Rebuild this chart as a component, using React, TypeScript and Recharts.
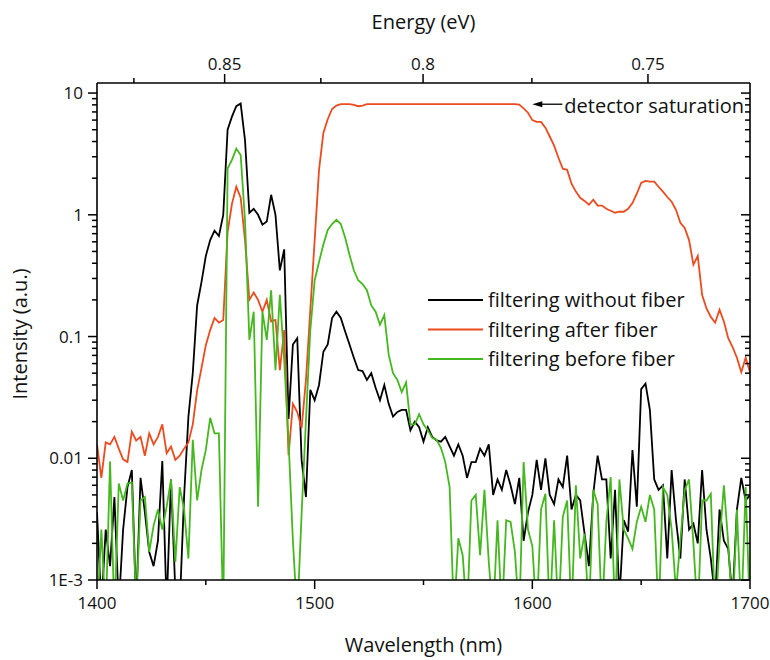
import React from 'react';
import { LineChart, Line, XAxis, YAxis, Legend, ReferenceDot } from 'recharts';

// Spectra sampled every 2 nm
const wavelengths = [
  1400, 1402, 1404, 1406, 1408, 1410, 1412, 1414, 1416, 1418,
  1420, 1422, 1424, 1426, 1428, 1430, 1432, 1434, 1436, 1438,
  1440, 1442, 1444, 1446, 1448, 1450, 1452, 1454, 1456, 1458,
  1460, 1462, 1464, 1466, 1468, 1470, 1472, 1474, 1476, 1478,
  1480, 1482, 1484, 1486, 1488, 1490, 1492, 1494, 1496, 1498,
  1500, 1502, 1504, 1506, 1508, 1510, 1512, 1514, 1516, 1518,
  1520, 1522, 1524, 1526, 1528, 1530, 1532, 1534, 1536, 1538,
  1540, 1542, 1544, 1546, 1548, 1550, 1552, 1554, 1556, 1558,
  1560, 1562, 1564, 1566, 1568, 1570, 1572, 1574, 1576, 1578,
  1580, 1582, 1584, 1586, 1588, 1590, 1592, 1594, 1596, 1598,
  1600, 1602, 1604, 1606, 1608, 1610, 1612, 1614, 1616, 1618,
  1620, 1622, 1624, 1626, 1628, 1630, 1632, 1634, 1636, 1638,
  1640, 1642, 1644, 1646, 1648, 1650, 1652, 1654, 1656, 1658,
  1660, 1662, 1664, 1666, 1668, 1670, 1672, 1674, 1676, 1678,
  1680, 1682, 1684, 1686, 1688, 1690, 1692, 1694, 1696, 1698,
  1700,
];

const withoutFiber = [
  0.0036, 0.0006, 0.0026, 0.0013, 0.0048, 0.0006, 0.0026, 0.0058, 0.008, 0.0006,
  0.0069, 0.0036, 0.0017, 0.0013, 0.0021, 0.0095, 0.0006, 0.0067, 0.0008, 0.0006,
  0.0048, 0.022, 0.05, 0.18, 0.28, 0.46, 0.62, 0.74, 0.67, 1.0,
  5.0, 6.4, 7.8, 8.2, 4.1, 1.04, 1.12, 1.0, 0.83, 0.88,
  1.46, 1.0, 0.35, 0.52, 0.021, 0.086, 0.097, 0.0097, 0.0048, 0.0365,
  0.03, 0.04, 0.075, 0.086, 0.142, 0.16, 0.142, 0.11, 0.086, 0.067,
  0.053, 0.052, 0.044, 0.05, 0.038, 0.03, 0.04, 0.028, 0.022, 0.024,
  0.025, 0.025, 0.017, 0.02, 0.018, 0.0137, 0.018, 0.015, 0.014, 0.0137,
  0.015, 0.0125, 0.0105, 0.013, 0.0105, 0.0069, 0.0093, 0.0093, 0.012, 0.0105,
  0.013, 0.005, 0.0067, 0.0055, 0.008, 0.006, 0.0042, 0.0069, 0.0021, 0.0036,
  0.005, 0.0097, 0.0055, 0.01, 0.005, 0.0042, 0.0067, 0.0058, 0.0105, 0.0038,
  0.005, 0.0045, 0.0024, 0.0013, 0.0051, 0.0105, 0.0067, 0.0067, 0.0015, 0.0055,
  0.0007, 0.0031, 0.0025, 0.0117, 0.004, 0.037, 0.041, 0.025, 0.0067, 0.0055,
  0.006, 0.0015, 0.008, 0.0031, 0.0015, 0.0067, 0.0026, 0.0029, 0.002, 0.008,
  0.0026, 0.0015, 0.0007, 0.0038, 0.0021, 0.0018, 0.0007, 0.0038, 0.0069, 0.0045,
  0.005,
];

const afterFiber = [
  0.013, 0.0069, 0.0135, 0.013, 0.015, 0.012, 0.0098, 0.0093, 0.0165, 0.014,
  0.015, 0.0105, 0.016, 0.013, 0.015, 0.019, 0.011, 0.0125, 0.0097, 0.0105,
  0.012, 0.0135, 0.019, 0.036, 0.055, 0.085, 0.113, 0.142, 0.13, 0.137,
  0.72, 1.23, 1.7, 1.38, 0.62, 0.2, 0.23, 0.2, 0.16, 0.2,
  0.133, 0.137, 0.053, 0.113, 0.0106, 0.028, 0.024, 0.0177, 0.044, 0.166,
  0.62, 2.34, 4.7, 6.1, 7.4, 7.9, 8.1, 8.1, 8.1, 8.0,
  7.8, 7.9, 8.1, 8.1, 8.1, 8.1, 8.1, 8.1, 8.1, 8.1,
  8.1, 8.1, 8.1, 8.1, 8.1, 8.1, 8.1, 8.1, 8.1, 8.1,
  8.1, 8.1, 8.1, 8.1, 8.1, 8.1, 8.1, 8.1, 8.1, 8.1,
  8.1, 8.1, 8.1, 8.1, 8.1, 8.1, 8.1, 8.05, 7.5, 6.9,
  6.0, 5.8, 5.8, 5.2, 4.4, 3.7, 2.94, 2.39, 2.34, 1.8,
  1.55, 1.38, 1.3, 1.21, 1.33, 1.19, 1.19, 1.12, 1.08, 1.04,
  1.06, 1.06, 1.12, 1.25, 1.49, 1.83, 1.9, 1.87, 1.87, 1.7,
  1.55, 1.4, 1.28, 1.1, 0.86, 0.78, 0.62, 0.39, 0.46, 0.22,
  0.17, 0.145, 0.13, 0.166, 0.133, 0.097, 0.082, 0.067, 0.051, 0.067,
  0.051,
];

const beforeFiber = [
  0.0005, 0.0026, 0.0005, 0.0094, 0.0005, 0.0062, 0.0045, 0.0062, 0.0063, 0.0006,
  0.0045, 0.0048, 0.0017, 0.0028, 0.0038, 0.0026, 0.004, 0.0067, 0.0014, 0.0058,
  0.0038, 0.0015, 0.0142, 0.0045, 0.008, 0.0117, 0.0215, 0.016, 0.016, 0.0005,
  2.4, 2.83, 3.5, 3.1, 0.9, 0.094, 0.16, 0.004, 0.16, 0.094,
  0.24, 0.053, 0.22, 0.064, 0.014, 0.0021, 0.0005, 0.0035, 0.0207, 0.113,
  0.29, 0.41, 0.57, 0.75, 0.84, 0.91, 0.84, 0.65, 0.47, 0.35,
  0.29, 0.27, 0.24, 0.18, 0.16, 0.125, 0.15, 0.071, 0.05, 0.044,
  0.035, 0.042, 0.019, 0.019, 0.023, 0.019, 0.017, 0.0147, 0.0142, 0.0122,
  0.0093, 0.0058, 0.0005, 0.0022, 0.0016, 0.0005, 0.0045, 0.005, 0.0016, 0.0055,
  0.0014, 0.0005, 0.0031, 0.0005, 0.0031, 0.003, 0.0017, 0.0005, 0.0093, 0.0026,
  0.0019, 0.0005, 0.0038, 0.0051, 0.0005, 0.0031, 0.0005, 0.0033, 0.0045, 0.0005,
  0.006, 0.0015, 0.0024, 0.0005, 0.0055, 0.0042, 0.0005, 0.003, 0.007, 0.0005,
  0.0067, 0.0026, 0.0022, 0.0018, 0.003, 0.004, 0.003, 0.005, 0.0038, 0.0005,
  0.0058, 0.005, 0.0026, 0.0008, 0.0021, 0.0055, 0.0067, 0.002, 0.0005, 0.0045,
  0.0045, 0.0051, 0.0005, 0.002, 0.006, 0.002, 0.0005, 0.0038, 0.0005, 0.0058,
  0.0005,
];

const yMajorTicks = [0.001, 0.01, 0.1, 1, 10];
const yTickLabels = ['1E-3', '0.01', '0.1', '1', '10'];
const xMajorTicks = [1400, 1500, 1600, 1700];
const xMinorTicks = [1450, 1550, 1650];
const energyTicks = [0.875, 0.85, 0.825, 0.8, 0.775, 0.75];
const energyMajor = [0.85, 0.8, 0.75];

const SATURATION_WL = 1600;
const SATURATION_LEVEL = 8.1;

const HC = 1239.84; // eV·nm
const FONT = "'Open Sans', sans-serif";
const INK = '#111';

const SERIES = [
  { key: 'without', name: 'filtering without fiber', color: '#000000' },
  { key: 'after', name: 'filtering after fiber', color: '#EB4B1F' },
  { key: 'before', name: 'filtering before fiber', color: '#45B81F' },
];

const rows = wavelengths.map((wl, i) => ({
  wl,
  without: withoutFiber[i],
  after: afterFiber[i],
  before: beforeFiber[i],
}));

// log axis: decades plus 2..9 minor ticks
const yTicks = [
  ...yMajorTicks,
  ...yMajorTicks.slice(0, -1).flatMap((d) => [2, 3, 4, 5, 6, 7, 8, 9].map((m) => +(m * d).toPrecision(2))),
];
const xTicks = [...xMajorTicks, ...xMinorTicks].sort((a, b) => a - b);
const topTicks = energyTicks.map((e) => HC / e);

const AXIS_LINE = { stroke: '#000', strokeWidth: 1.6 };

const LeftTick = (props: any) => {
  const { x, y, payload } = props;
  const i = yMajorTicks.indexOf(payload.value);
  const len = i >= 0 ? 9 : 5;
  return (
    <g>
      <line x1={x - len} x2={x} y1={y} y2={y} stroke="#000" strokeWidth={1.5} />
      {i >= 0 && (
        <text x={x - 14} y={y + 6} textAnchor="end" fontSize={17} fontFamily={FONT} fill={INK}>
          {yTickLabels[i]}
        </text>
      )}
    </g>
  );
};

// right frame: ticks point inwards, no labels
const RightTick = (props: any) => {
  const { x, y, payload } = props;
  const len = yMajorTicks.includes(payload.value) ? 9 : 5;
  return <line x1={x - len} x2={x} y1={y} y2={y} stroke="#000" strokeWidth={1.5} />;
};

const BottomTick = (props: any) => {
  const { x, y, payload } = props;
  const major = xMajorTicks.includes(payload.value);
  return (
    <g>
      <line x1={x} x2={x} y1={y} y2={y + (major ? 9 : 5)} stroke="#000" strokeWidth={1.5} />
      {major && (
        <text x={x} y={y + 29} textAnchor="middle" fontSize={17} fontFamily={FONT} fill={INK}>
          {payload.value}
        </text>
      )}
    </g>
  );
};

const TopTick = (props: any) => {
  const { x, y, index } = props;
  const e = energyTicks[index];
  const major = energyMajor.includes(e);
  return (
    <g>
      <line x1={x} x2={x} y1={y} y2={y - (major ? 9 : 5)} stroke="#000" strokeWidth={1.5} />
      {major && (
        <text x={x} y={y - 13} textAnchor="middle" fontSize={17} fontFamily={FONT} fill={INK}>
          {String(e)}
        </text>
      )}
    </g>
  );
};

const SaturationNote = (props: any) => {
  const { cx, cy } = props;
  return (
    <g>
      <polygon points={`${cx},${cy} ${cx + 10},${cy - 3} ${cx + 10},${cy + 3}`} fill="#000" />
      <line x1={cx + 9} x2={cx + 30} y1={cy} y2={cy} stroke="#000" strokeWidth={1.3} />
      <text x={cx + 32} y={cy + 9} fontSize={20} fontFamily={FONT} fill={INK}>
        detector saturation
      </text>
    </g>
  );
};

const SeriesLegend = () => (
  <svg width={300} height={92}>
    {SERIES.map((s, i) => {
      const y = 14 + i * 29.5;
      return (
        <g key={s.key}>
          <line x1={4} x2={59} y1={y} y2={y} stroke={s.color} strokeWidth={2} />
          <text x={64} y={y + 7} fontSize={20} fontFamily={FONT} fill={INK}>
            {s.name}
          </text>
        </g>
      );
    })}
  </svg>
);

const App: React.FC = () => {
  return (
    <div style={{ position: 'absolute', left: 0, top: 0, width: 770, height: 660, overflow: 'hidden' }}>
      <LineChart width={770} height={660} data={rows} margin={{ top: 0, right: 19, bottom: 0, left: 0 }}>
        <XAxis
          xAxisId="bottom"
          dataKey="wl"
          type="number"
          domain={[1400, 1700]}
          allowDataOverflow
          ticks={xTicks}
          interval={0}
          height={80}
          tickSize={0}
          tickMargin={0}
          tickLine={false}
          axisLine={AXIS_LINE}
          tick={<BottomTick />}
        />
        <XAxis
          xAxisId="top"
          orientation="top"
          dataKey="wl"
          type="number"
          domain={[1400, 1700]}
          allowDataOverflow
          ticks={topTicks}
          interval={0}
          height={83}
          tickSize={0}
          tickMargin={0}
          tickLine={false}
          axisLine={AXIS_LINE}
          tick={<TopTick />}
        />
        <YAxis
          yAxisId="left"
          scale="log"
          type="number"
          domain={[0.001, 12.1]}
          allowDataOverflow
          ticks={yTicks}
          interval={0}
          width={97}
          tickSize={0}
          tickMargin={0}
          tickLine={false}
          axisLine={AXIS_LINE}
          tick={<LeftTick />}
        />
        <YAxis
          yAxisId="right"
          orientation="right"
          scale="log"
          type="number"
          domain={[0.001, 12.1]}
          allowDataOverflow
          ticks={yTicks}
          interval={0}
          width={1}
          tickSize={0}
          tickMargin={0}
          tickLine={false}
          axisLine={AXIS_LINE}
          tick={<RightTick />}
        />
        {SERIES.map((s) => (
          <Line
            key={s.key}
            xAxisId="bottom"
            yAxisId="left"
            type="linear"
            dataKey={s.key}
            name={s.name}
            stroke={s.color}
            strokeWidth={1.8}
            dot={false}
            activeDot={false}
            isAnimationActive={false}
          />
        ))}
        <ReferenceDot
          xAxisId="bottom"
          yAxisId="left"
          x={SATURATION_WL}
          y={SATURATION_LEVEL}
          ifOverflow="visible"
          shape={<SaturationNote />}
        />
        <Legend
          layout="vertical"
          align="center"
          verticalAlign="middle"
          content={<SeriesLegend />}
          wrapperStyle={{ left: 424, top: 286, width: 300 }}
        />
        <text x={423.5} y={29} textAnchor="middle" fontSize={20} fontFamily={FONT} fill={INK}>
          Energy (eV)
        </text>
        <text x={423.5} y={652} textAnchor="middle" fontSize={20} fontFamily={FONT} fill={INK}>
          Wavelength (nm)
        </text>
        <text transform="translate(27,334) rotate(-90)" textAnchor="middle" fontSize={20} fontFamily={FONT} fill={INK}>
          Intensity (a.u.)
        </text>
      </LineChart>
    </div>
  );
};

export default App;
